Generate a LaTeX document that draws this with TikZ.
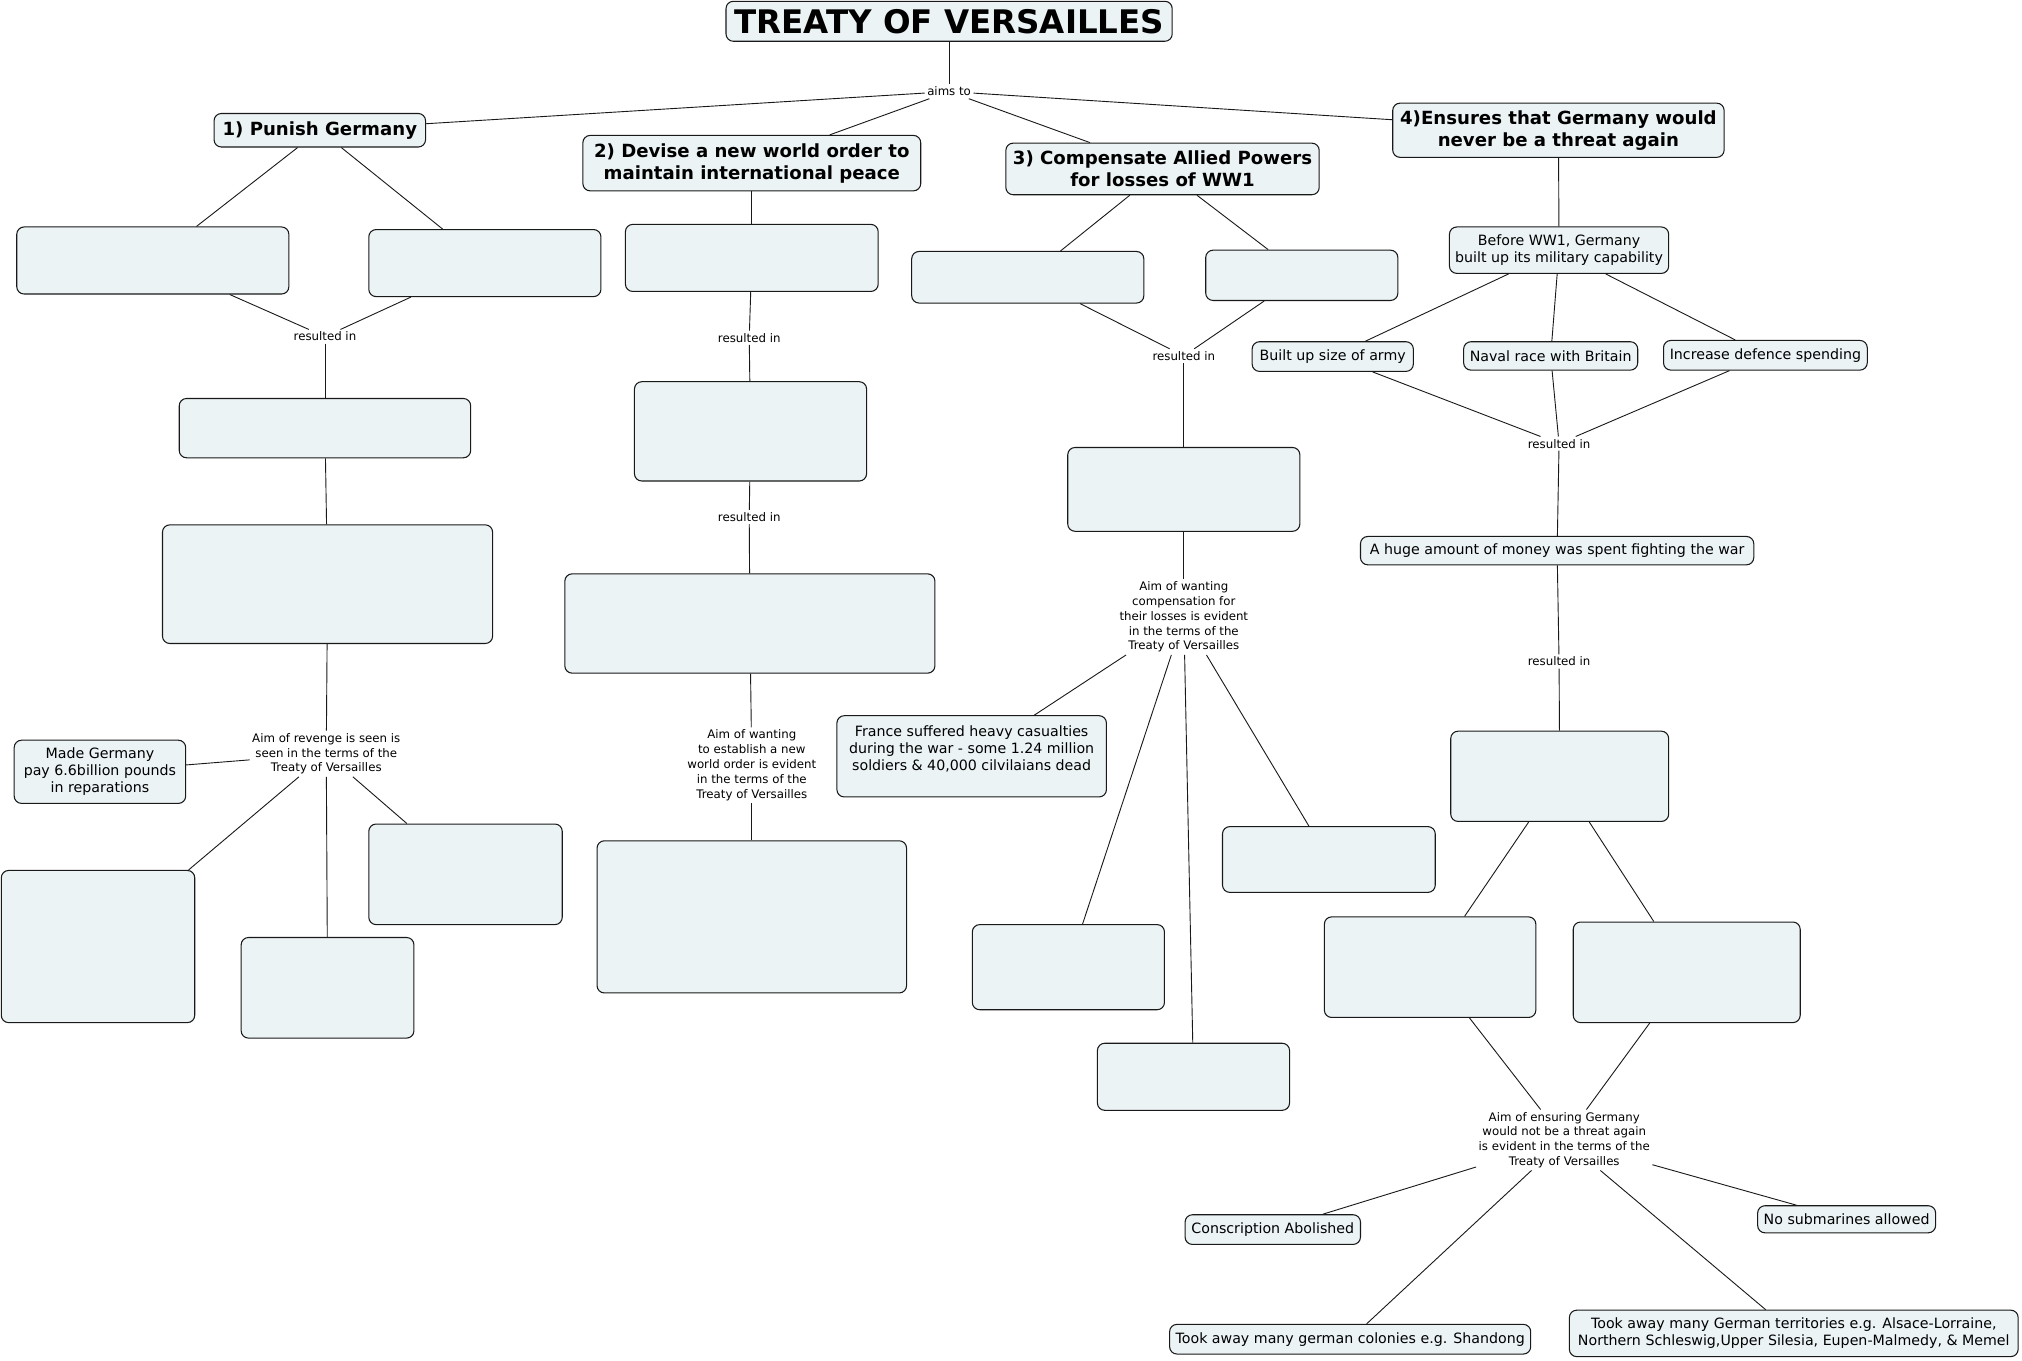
\documentclass[tikz,border=0pt]{standalone}
\usepackage{fontspec}
\setmainfont{DejaVu Sans}
\usepackage{tikz}
\usetikzlibrary{positioning}
\definecolor{PaleBlue}{RGB}{235,243,245}
\definecolor{InkBlack}{RGB}{25,25,25}

\begin{document}
\begin{tikzpicture}[
	x=0.03cm,y=-0.03cm,
	concept/.style={draw=InkBlack,fill=PaleBlue,rounded corners=0.17cm,line width=0.7pt,align=center,inner sep=2pt,font=\fontsize{9.4}{11.1}\selectfont},
	heading/.style={concept,font=\bfseries\fontsize{12}{14.5}\selectfont},
	linkword/.style={align=center,inner sep=1.5pt,font=\fontsize{7.8}{9.8}\selectfont},
	boxsize/.style 2 args={minimum width=#1*0.03cm,minimum height=#2*0.03cm},
	link/.style={InkBlack,line width=0.6pt}
	]
	
	\useasboundingbox (0,0) rectangle (1568,1055);
	
	% title and the four aims
	\node[
	concept,
	font=\bfseries\fontsize{21.5}{26}\selectfont,
	boxsize={346}{31}
	]
	(TV) at (736,16.5)
	{TREATY OF VERSAILLES};
	
	\node[linkword] (AIM) at (736,71) {aims to};
	
	\node[
	heading,
	boxsize={164}{26}
	]
	(PG) at (248,101)
	{1) Punish Germany};
	
	\node[
	heading,
	boxsize={262}{43}
	]
	(NWO) at (583,126.5)
	{2) Devise a new world order to\\maintain international peace};
	
	\node[
	heading,
	boxsize={243}{40}
	]
	(CAP) at (901.5,131)
	{3) Compensate Allied Powers\\for losses of WW1};
	
	\node[
	heading,
	boxsize={257}{42}
	]
	(NT) at (1208.5,101)
	{4)Ensures that Germany would\\never be a threat again};
	
	% column 1
	\node[concept,boxsize={211}{52}] (PG1) at (118.5,202) {};
	\node[concept,boxsize={180}{52}] (PG2) at (376,204) {};
	\node[linkword] (PGR) at (252,261) {resulted in};
	\node[concept,boxsize={226}{46}] (PG3) at (252,332) {};
	\node[concept,boxsize={256}{92}] (PG4) at (254,453) {};
	\node[linkword] (PGA) at (253,584.5) {Aim of revenge is seen is\\seen in the terms of the\\Treaty of Versailles};
	\node[
	concept,
	boxsize={133}{49}
	]
	(REP) at (77.5,598.5)
	{Made Germany\\pay 6.6billion pounds\\in reparations};
	\node[concept,boxsize={150}{118}] (PG5) at (76,734) {};
	\node[concept,boxsize={134}{78}] (PG6) at (254,766) {};
	\node[concept,boxsize={150}{78}] (PG7) at (361,678) {};
	
	% column 2
	\node[concept,boxsize={196}{52}] (NW1) at (583,200) {};
	\node[linkword] (NWR1) at (581,262) {resulted in};
	\node[concept,boxsize={180}{77}] (NW2) at (582,334.5) {};
	\node[linkword] (NWR2) at (581,401) {resulted in};
	\node[concept,boxsize={287}{77}] (NW3) at (581.5,483.5) {};
	\node[linkword] (NWA) at (583,593.5) {Aim of wanting\\to establish a new\\world order is evident\\in the terms of the\\Treaty of Versailles};
	\node[concept,boxsize={240}{118}] (NW4) at (583,711) {};
	
	% column 3
	\node[concept,boxsize={180}{40}] (CP1) at (797,215) {};
	\node[concept,boxsize={149}{39}] (CP2) at (1009.5,213.5) {};
	\node[linkword] (CPR) at (918,276) {resulted in};
	\node[concept,boxsize={180}{65}] (CP3) at (918,379.5) {};
	\node[linkword] (CPA) at (918,478.5) {Aim of wanting\\compensation for\\their losses is evident\\in the terms of the\\Treaty of Versailles};
	\node[
	concept,
	boxsize={209}{63}
	]
	(FR) at (753.5,586.5)
	{France suffered heavy casualties\\during the war - some 1.24 million\\soldiers \& 40,000 cilvilaians dead\\ \mbox{}};
	\node[concept,boxsize={149}{66}] (CP4) at (828.5,750) {};
	\node[concept,boxsize={149}{52}] (CP5) at (925.5,835) {};
	\node[concept,boxsize={165}{51}] (CP6) at (1030.5,666.5) {};
	
	% column 4
	\node[
	concept,
	boxsize={170}{36}
	]
	(MIL) at (1209,194)
	{Before WW1, Germany\\built up its military capability};
	\node[concept,boxsize={125}{23}] (ARMY) at (1033.5,276.5) {Built up size of army};
	\node[concept,boxsize={135}{22}] (NAVY) at (1202.5,276) {Naval race with Britain};
	\node[concept,boxsize={158}{23}] (DEF) at (1369,275.5) {Increase defence spending};
	\node[linkword] (NTR1) at (1209,344) {resulted in};
	\node[concept,boxsize={305}{22}] (MON) at (1207.5,427) {A huge amount of money was spent fighting the war};
	\node[linkword] (NTR2) at (1209,513) {resulted in};
	\node[concept,boxsize={169}{70}] (NT1) at (1209.5,602) {};
	\node[concept,boxsize={164}{78}] (NT2) at (1109,750) {};
	\node[concept,boxsize={176}{78}] (NT3) at (1308,754) {};
	\node[linkword] (NTA) at (1213,884) {Aim of ensuring Germany\\would not be a threat again\\is evident in the terms of the\\Treaty of Versailles};
	\node[concept,boxsize={136}{23}] (CON) at (987,953.5) {Conscription Abolished};
	\node[concept,boxsize={280}{23}] (COL) at (1047,1038.5) {Took away many german colonies e.g. Shandong};
	\node[
	concept,
	boxsize={348}{36}
	]
	(TER) at (1391,1034)
	{Took away many German territories e.g. Alsace-Lorraine,\\Northern Schleswig,Upper Silesia, Eupen-Malmedy, \& Memel};
	\node[concept,boxsize={138}{21}] (SUB) at (1432,945.5) {No submarines allowed};
	
	% connectors
	\draw[link] (TV) -- (AIM);
	\draw[link] (AIM) -- (PG);
	\draw[link] (AIM) -- (NWO);
	\draw[link] (AIM) -- (CAP);
	\draw[link] (AIM) -- (NT);
	
	\draw[link] (PG) -- (PG1);
	\draw[link] (PG) -- (PG2);
	\draw[link] (PG1) -- (PGR);
	\draw[link] (PG2) -- (PGR);
	\draw[link] (PGR) -- (PG3);
	\draw[link] (PG3) -- (PG4);
	\draw[link] (PG4) -- (PGA);
	\draw[link] (PGA) -- (REP);
	\draw[link] (PGA) -- (PG5);
	\draw[link] (PGA) -- (PG6);
	\draw[link] (PGA) -- (PG7);
	
	\draw[link] (NWO) -- (NW1);
	\draw[link] (NW1) -- (NWR1);
	\draw[link] (NWR1) -- (NW2);
	\draw[link] (NW2) -- (NWR2);
	\draw[link] (NWR2) -- (NW3);
	\draw[link] (NW3) -- (NWA);
	\draw[link] (NWA) -- (NW4);
	
	\draw[link] (CAP) -- (CP1);
	\draw[link] (CAP) -- (CP2);
	\draw[link] (CP1) -- (CPR);
	\draw[link] (CP2) -- (CPR);
	\draw[link] (CPR) -- (CP3);
	\draw[link] (CP3) -- (CPA);
	\draw[link] (CPA) -- (FR);
	\draw[link] (CPA) -- (CP4);
	\draw[link] (CPA) -- (CP5);
	\draw[link] (CPA) -- (CP6);
	
	\draw[link] (NT) -- (MIL);
	\draw[link] (MIL) -- (ARMY);
	\draw[link] (MIL) -- (NAVY);
	\draw[link] (MIL) -- (DEF);
	\draw[link] (ARMY) -- (NTR1);
	\draw[link] (NAVY) -- (NTR1);
	\draw[link] (DEF) -- (NTR1);
	\draw[link] (NTR1) -- (MON);
	\draw[link] (MON) -- (NTR2);
	\draw[link] (NTR2) -- (NT1);
	\draw[link] (NT1) -- (NT2);
	\draw[link] (NT1) -- (NT3);
	\draw[link] (NT2) -- (NTA);
	\draw[link] (NT3) -- (NTA);
	\draw[link] (NTA) -- (CON);
	\draw[link] (NTA) -- (COL);
	\draw[link] (NTA) -- (TER);
	\draw[link] (NTA) -- (SUB);
	
\end{tikzpicture}
\end{document}
